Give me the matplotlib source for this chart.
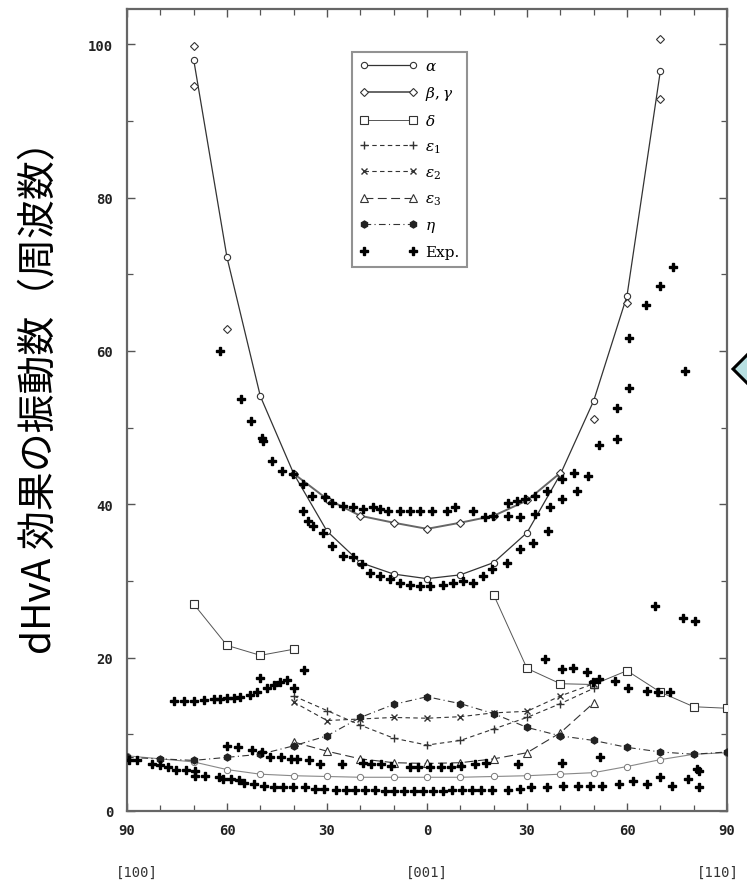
import numpy as np
import matplotlib
matplotlib.use("Agg")
import matplotlib.pyplot as plt
from matplotlib.patches import Polygon
from matplotlib.ticker import MultipleLocator, FuncFormatter

plt.rcParams['mathtext.fontset'] = 'dejavuserif'

# angle measured from [001]; negative side runs toward [100], positive toward [110]
alpha_x = [-70, -60, -50, -40, -30, -20, -10, 0, 10, 20, 30, 40, 50, 60, 70]
alpha_y = [98.0, 72.2, 54.1, 44.0, 36.5, 32.4, 30.9, 30.3, 30.8, 32.4, 36.3, 43.9, 53.5, 67.2, 96.5]
alpha_low_x = [-90, -80, -70, -60, -50, -40, -30, -20, -10, 0, 10, 20, 30, 40, 50, 60, 70, 80, 90]
alpha_low_y = [7.2, 6.8, 6.4, 5.4, 4.8, 4.6, 4.5, 4.4, 4.4, 4.4, 4.4, 4.5, 4.6, 4.8, 5.0, 5.8, 6.7, 7.4, 7.6]

beta_x = [-40, -30, -20, -10, 0, 10, 20, 30, 40]
beta_y = [44.0, 40.7, 38.5, 37.6, 36.8, 37.6, 38.5, 40.5, 44.1]
beta_extra_x = [-70, -70, -60, 50, 60, 70, 70]
beta_extra_y = [99.8, 94.6, 62.8, 51.1, 66.3, 100.7, 92.8]

delta_x = [-70, -60, -50, -40, np.nan, 20, 30, 40, 50, 60, 70, 80, 90]
delta_y = [27.0, 21.6, 20.3, 21.1, np.nan, 28.2, 18.6, 16.6, 16.5, 18.3, 15.5, 13.6, 13.4]

eps_x = [-40, -30, -20, -10, 0, 10, 20, 30, 40, 50]
eps1_y = [15.0, 13.1, 11.2, 9.5, 8.6, 9.2, 10.7, 12.2, 14.0, 16.0]
eps2_y = [14.2, 11.8, 12.0, 12.2, 12.1, 12.3, 12.8, 13.0, 15.0, 16.6]
eps3_y = [9.0, 7.8, 6.8, 6.3, 6.2, 6.3, 6.8, 7.6, 10.2, 14.1]

eta_x = [-90, -80, -70, -60, -50, -40, -30, -20, -10, 0, 10, 20, 30, 40, 50, 60, 70, 80, 90]
eta_y = [7.0, 6.8, 6.6, 7.0, 7.4, 8.5, 9.8, 12.2, 13.9, 14.9, 14.0, 12.7, 10.9, 9.8, 9.2, 8.3, 7.7, 7.4, 7.7]

# measured dHvA frequencies
exp_x = [
    -62.1, -55.8, -52.8, -49.6, -49.3, -46.6, -43.6, -40.1,
    -37.1, -34.6, -30.6, -28.6, -25.1, -22.1, -19.1, -16.1, -14.1, -11.6, -8.1, -5.1, -2.1,
    1.4, 5.9, 8.4, 13.9, 17.4, 19.9, 24.4, 27.9, 24.4, 26.9, 29.4, 32.4, 35.9, 40.4, 44.0, 48.4,
    -37.1, -35.6, -34.1, -31.1, -28.6, -25.1, -22.1, -19.6, -17.1, -14.1, -11.1, -8.1, -5.1, -2.1,
    0.9, 4.9, 7.9, 10.9, 13.9, 16.9, 19.4, 23.9, 27.9, 31.9, 32.4, 36.4, 36.9, 40.4, 44.9,
    51.7, 56.9, 56.9, 60.7, 60.7, 65.7, 69.9, 73.7, 77.4,
    -76, -73, -70, -67, -64, -62, -60, -58, -56, -53, -51, -50, -48, -46, -44, -42, -40, -37,
    35.4, 40.4, 43.9, 47.9, 49.9, 51.5, 56.4, 60.4, 65.9, 69.4, 72.9,
    68.4, 76.9, 80.4,
    -60.1, -56.6, -52.5, -49.6, -47.2, -43.7, -40.8, -39.0, -35.5, -32.0, -25.5, -19.1, -16.7,
    -13.8, -10.9, -5.0, -2.7, 0.8, 4.3, 7.3, 10.2, 14.3, 17.8, 27.4, 40.4, 51.9, 80.9,
    -89.4, -87.1, -82.4, -80.0, -77.7, -75.4, -72.4, -69.5, -69.5, -66.6, -62.5, -61.3, -58.9,
    -56.5, -54.8, -51.9, -49.0, -46.0, -43.1, -40.2, -36.7, -33.7, -30.8, -27.3, -24.4, -21.5,
    -18.5, -15.6, -12.7, -9.8, -6.9, -4.0, -1.1, 1.8, 4.7, 7.6, 10.5, 13.4, 16.3, 19.6, 24.3,
    27.8, 31.3, 36.0, 40.7, 45.4, 48.9, 52.4, 57.7, 61.8, 65.9, 70.0, 73.5, 78.2, 81.7, 81.7,
]
exp_y = [
    60.0, 53.7, 50.9, 48.7, 48.2, 45.7, 44.3, 43.9,
    42.6, 41.1, 40.9, 40.2, 39.8, 39.6, 39.4, 39.6, 39.4, 39.1, 39.1, 39.1, 39.1,
    39.1, 39.1, 39.6, 39.1, 38.3, 38.5, 38.5, 38.3, 40.2, 40.4, 40.7, 41.1, 41.8, 43.3, 44.1, 43.7,
    39.1, 37.8, 37.2, 36.3, 34.6, 33.3, 33.1, 32.2, 31.1, 30.7, 30.2, 29.8, 29.5, 29.4,
    29.4, 29.5, 29.8, 30.0, 29.8, 30.7, 31.6, 32.4, 34.2, 35.0, 38.7, 36.5, 39.6, 40.7, 41.8,
    47.8, 48.5, 52.6, 55.2, 61.7, 66.0, 68.5, 71.0, 57.4,
    14.4, 14.4, 14.4, 14.5, 14.6, 14.6, 14.7, 14.8, 14.9, 15.1, 15.5, 17.3, 16.0, 16.4, 16.8, 17.1, 16.0, 18.4,
    19.8, 18.5, 18.7, 18.1, 16.8, 17.2, 17.0, 16.1, 15.7, 15.5, 15.5,
    26.8, 25.2, 24.8,
    8.5, 8.3, 7.9, 7.7, 7.0, 7.0, 6.8, 6.8, 6.6, 6.1, 6.1, 6.3, 6.1,
    6.1, 5.9, 5.7, 5.7, 5.7, 5.7, 5.7, 5.9, 6.1, 6.3, 6.1, 6.3, 7.0, 5.5,
    6.6, 6.6, 6.1, 6.0, 5.7, 5.4, 5.4, 5.2, 4.6, 4.6, 4.4, 4.2, 4.2,
    4.0, 3.7, 3.5, 3.3, 3.1, 3.1, 3.1, 3.1, 2.9, 2.9, 2.8, 2.8, 2.7,
    2.7, 2.7, 2.6, 2.6, 2.6, 2.6, 2.6, 2.6, 2.6, 2.7, 2.7, 2.7, 2.8, 2.8, 2.8,
    2.9, 3.1, 3.1, 3.3, 3.3, 3.3, 3.2, 3.5, 3.9, 3.5, 4.4, 3.3, 4.2, 3.1, 5.2,
]

fig = plt.figure(figsize=(7.47, 8.87), dpi=100)
ax = fig.add_axes([127 / 747, 1 - 812 / 887, 600 / 747, 802 / 887])

lc = '#333333'
ms = 4.5
ax.plot(alpha_x, alpha_y, '-', color=lc, lw=0.9, marker='o', ms=ms,
        mfc='white', mec=lc, mew=0.8, label=r'$\alpha$', zorder=3)
ax.plot(alpha_low_x, alpha_low_y, '-', color='#888888', lw=0.8, marker='o', ms=ms,
        mfc='white', mec='#777777', mew=0.7, zorder=2)
ax.plot(beta_x, beta_y, '-', color='#666666', lw=1.4, marker='D', ms=4,
        mfc='white', mec=lc, mew=0.8, label=r'$\beta,\gamma$', zorder=3)
ax.plot(beta_extra_x, beta_extra_y, ls='none', marker='D', ms=4,
        mfc='white', mec=lc, mew=0.8, zorder=3)
ax.plot(delta_x, delta_y, '-', color='#555555', lw=0.7, marker='s', ms=5.5,
        mfc='white', mec=lc, mew=0.8, label=r'$\delta$', zorder=3)
ax.plot(eps_x, eps1_y, ls=(0, (4, 3)), color=lc, lw=0.8, marker='+', ms=6,
        mec=lc, mew=1.0, label=r'$\epsilon_1$', zorder=3)
ax.plot(eps_x, eps2_y, ls=(0, (4, 3)), color=lc, lw=0.8, marker='x', ms=5,
        mec=lc, mew=1.0, label=r'$\epsilon_2$', zorder=3)
ax.plot(eps_x, eps3_y, ls=(0, (8, 4)), color=lc, lw=0.8, marker='^', ms=6,
        mfc='white', mec=lc, mew=0.8, label=r'$\epsilon_3$', zorder=3)
ax.plot(eta_x, eta_y, ls=(0, (6, 3, 1, 3)), color=lc, lw=0.8, marker='h', ms=5,
        mfc='#222222', mec='#222222', label=r'$\eta$', zorder=3)
ax.plot(exp_x, exp_y, ls='none', marker='P', ms=5.5, color='black',
        mec='black', label='Exp.', zorder=4)

ax.set_xlim(-90, 90)
ax.set_ylim(0, 104.6)
ax.xaxis.set_major_locator(MultipleLocator(30))
ax.xaxis.set_minor_locator(MultipleLocator(10))
ax.yaxis.set_major_locator(MultipleLocator(20))
ax.yaxis.set_minor_locator(MultipleLocator(10))
ax.xaxis.set_major_formatter(FuncFormatter(lambda v, p: f'{abs(int(round(v)))}'))
ax.tick_params(which='both', direction='in', top=True, right=True, color='#555555')
ax.tick_params(which='major', length=6, width=1.0)
ax.tick_params(which='minor', length=4, width=0.9)
ax.tick_params(axis='x', pad=9)
ax.tick_params(axis='y', pad=10)
for lab in ax.get_xticklabels() + ax.get_yticklabels():
    lab.set_fontfamily('DejaVu Sans Mono')
    lab.set_fontweight('bold')
    lab.set_fontsize(10)
    lab.set_color('#222222')
for sp in ax.spines.values():
    sp.set_color('#666666')
    sp.set_linewidth(1.6)

leg = ax.legend(loc='upper left', bbox_to_anchor=(0.375, 0.947),
                prop={'family': 'DejaVu Serif', 'size': 11},
                frameon=True, fancybox=False, edgecolor='#777777',
                handlelength=3.8, handletextpad=0.5, labelspacing=0.72,
                borderpad=0.5, borderaxespad=0, markerfirst=True, numpoints=2)
leg.get_frame().set_linewidth(1.5)

for txt, xp in [('[100]', 137), ('[001]', 427), ('[110]', 718)]:
    fig.text(xp / 747, 1 - 873 / 887, txt, ha='center', va='center',
             fontsize=10, fontfamily='DejaVu Sans Mono', color='#333333')

fig.text(40 / 747, 1 - 388 / 887, 'dHvA 効果の振動数（周波数）', rotation=90,
         ha='center', va='center', fontsize=28,
         fontfamily=['Noto Sans CJK JP', 'DejaVu Sans'])

# callout tip at the right edge
diamond = Polygon(np.array([[733, 370], [751, 352], [769, 370], [751, 388]]) / [747, 887] * [1, -1] + [0, 1],
                  closed=True, transform=fig.transFigure, facecolor='#b8e0e2',
                  edgecolor='black', lw=2.2, clip_on=False)
fig.patches.append(diamond)

fig.savefig('out.png', dpi=100)
